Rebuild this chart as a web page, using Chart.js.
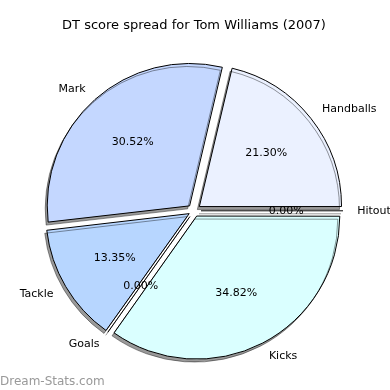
<!DOCTYPE html>
<html>
<head>
<meta charset="utf-8">
<script src="https://cdn.jsdelivr.net/npm/chart.js@4"></script>
<style>
    html, body { margin: 0; padding: 0; background: #fff; }
    #wrap { width: 390px; height: 390px; }
</style>
</head>
<body>
<div id="wrap"><canvas id="pie"></canvas></div>
<script>
// slices in drawing order (clockwise from 3 o'clock)
const labels = ["Hitout", "Kicks", "Goals", "Tackle", "Mark", "Handballs"];
const percents = [0.0, 34.82, 0.0, 13.35, 30.52, 21.30];
const colors = ["#e0f0ff", "#daffff", "#d0e4ff", "#b7d6ff", "#c4d7ff", "#ebf1ff"];

const EXPLODE = 7; // px shift of each wedge
const RADIUS = 142;
const SHADOW = "rgba(0,0,0,0.4)";

const total = percents.reduce((a, b) => a + b, 0);

// chart.js divides offset by 4 and adds a bit for narrow arcs, undo that
function arcOffset(ctx) {
    const c = (percents[ctx.dataIndex] / total) * Math.PI * 2;
    const fix = 1 - Math.sin(Math.min(Math.PI, c));
    return (4 * EXPLODE) / (1 + fix);
}

const shadowPlugin = {
    id: "shadow",
    beforeDatasetsDraw(chart) {
        const ctx = chart.ctx;
        ctx.save();
        ctx.shadowColor = SHADOW;
        ctx.shadowOffsetX = -2;
        ctx.shadowOffsetY = 3;
        ctx.shadowBlur = 0;
    },
    afterDatasetsDraw(chart) {
        chart.ctx.restore();
    },
};

const labelPlugin = {
    id: "pieLabels",
    afterDatasetsDraw(chart) {
        const ctx = chart.ctx;
        const meta = chart.getDatasetMeta(0);
        meta.data.forEach((arc, i) => {
            const { x, y, startAngle, endAngle } = arc.getProps(["x", "y", "startAngle", "endAngle"], true);
            const mid = (startAngle + endAngle) / 2;
            const dx = Math.cos(mid);
            const dy = Math.sin(mid);

            // zero size wedges are drawn as a line
            if (percents[i] === 0) {
                ctx.save();
                ctx.strokeStyle = "#000";
                ctx.lineWidth = 1;
                ctx.shadowColor = SHADOW;
                ctx.shadowOffsetX = -2;
                ctx.shadowOffsetY = 3;
                ctx.beginPath();
                ctx.moveTo(x + dx * EXPLODE, y + dy * EXPLODE);
                ctx.lineTo(x + dx * (EXPLODE + RADIUS), y + dy * (EXPLODE + RADIUS));
                ctx.stroke();
                ctx.restore();
            }

            ctx.save();
            ctx.fillStyle = "#000";
            ctx.font = "11px 'DejaVu Sans'";
            ctx.textBaseline = "middle";

            const lr = EXPLODE + RADIUS * 1.1;
            ctx.textAlign = dx > 0.0001 ? "left" : "right";
            ctx.fillText(labels[i], x + dx * lr, y + dy * lr);

            const pr = EXPLODE + RADIUS * 0.6;
            ctx.textAlign = "center";
            ctx.fillText(percents[i].toFixed(2) + "%", x + dx * pr, y + dy * pr);
            ctx.restore();
        });
    },
    afterDraw(chart) {
        const ctx = chart.ctx;
        ctx.save();
        ctx.fillStyle = "#999";
        ctx.font = "12px 'DejaVu Sans'";
        ctx.textAlign = "left";
        ctx.textBaseline = "alphabetic";
        ctx.fillText("Dream-Stats.com", 0, 385);
        ctx.restore();
    },
};

new Chart(document.getElementById("pie"), {
    type: "pie",
    data: {
        labels,
        datasets: [
            {
                data: percents,
                backgroundColor: colors,
                borderColor: "#000",
                borderWidth: 1,
                offset: arcOffset,
            },
        ],
    },
    options: {
        responsive: true,
        maintainAspectRatio: false,
        animation: false,
        rotation: 90,
        radius: RADIUS,
        layout: {
            padding: { top: 0, bottom: 6, left: 8, right: 10 },
        },
        plugins: {
            legend: { display: false },
            tooltip: { enabled: false },
            title: {
                display: true,
                text: "DT score spread for Tom Williams (2007)",
                color: "#000",
                font: { family: "DejaVu Sans", size: 13, weight: "normal", lineHeight: 1.2 },
                padding: { top: 18, bottom: 4 },
            },
        },
    },
    plugins: [shadowPlugin, labelPlugin],
});
</script>
</body>
</html>
